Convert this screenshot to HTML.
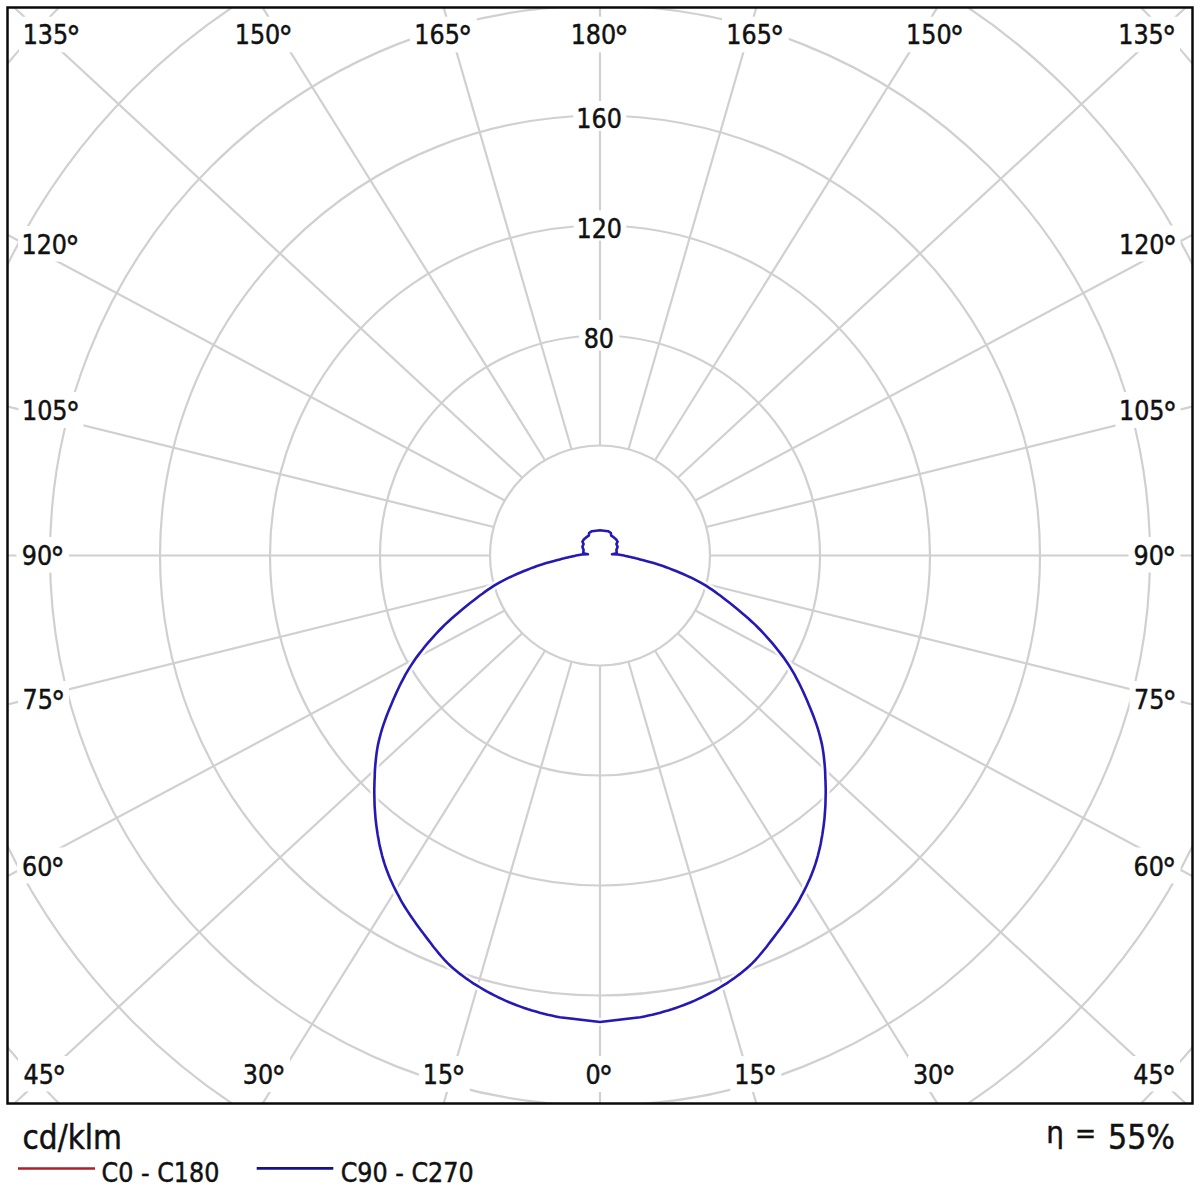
<!DOCTYPE html>
<html><head><meta charset="utf-8"><title>Polar diagram</title>
<style>html,body{margin:0;padding:0;background:#fff;width:1200px;height:1200px;overflow:hidden}</style>
</head><body>
<svg width="1200" height="1200" viewBox="0 0 1200 1200" style="position:absolute;left:0;top:0"><defs><clipPath id="fr"><rect x="7.5" y="7.5" width="1185.0" height="1096.0"/></clipPath></defs><rect width="1200" height="1200" fill="#fff"/><g clip-path="url(#fr)" fill="none" stroke="#d0d0d0" stroke-width="2.2"><circle cx="600" cy="555.5" r="110"/><circle cx="600" cy="555.5" r="220"/><circle cx="600" cy="555.5" r="330"/><circle cx="600" cy="555.5" r="440"/><circle cx="600" cy="555.5" r="550"/><circle cx="600" cy="555.5" r="660"/><circle cx="600" cy="555.5" r="770"/><line x1="600.00" y1="665.50" x2="600.00" y2="1665.50"/><line x1="628.47" y1="661.75" x2="906.52" y2="1622.32"/><line x1="655.00" y1="650.76" x2="1184.21" y2="1499.25"/><line x1="677.78" y1="633.28" x2="1411.63" y2="1312.59"/><line x1="695.26" y1="610.50" x2="1577.21" y2="1081.85"/><line x1="706.25" y1="583.97" x2="1676.84" y2="824.71"/><line x1="710.00" y1="555.50" x2="1710.00" y2="555.50"/><line x1="706.25" y1="527.03" x2="1676.84" y2="286.29"/><line x1="695.26" y1="500.50" x2="1577.21" y2="29.15"/><line x1="677.78" y1="477.72" x2="1411.63" y2="-201.59"/><line x1="655.00" y1="460.24" x2="1184.21" y2="-388.25"/><line x1="628.47" y1="449.25" x2="906.52" y2="-511.32"/><line x1="600.00" y1="445.50" x2="600.00" y2="-554.50"/><line x1="571.53" y1="449.25" x2="293.48" y2="-511.32"/><line x1="545.00" y1="460.24" x2="15.79" y2="-388.25"/><line x1="522.22" y1="477.72" x2="-211.63" y2="-201.59"/><line x1="504.74" y1="500.50" x2="-377.21" y2="29.15"/><line x1="493.75" y1="527.03" x2="-476.84" y2="286.29"/><line x1="490.00" y1="555.50" x2="-510.00" y2="555.50"/><line x1="493.75" y1="583.97" x2="-476.84" y2="824.71"/><line x1="504.74" y1="610.50" x2="-377.21" y2="1081.85"/><line x1="522.22" y1="633.28" x2="-211.63" y2="1312.59"/><line x1="545.00" y1="650.76" x2="15.79" y2="1499.25"/><line x1="571.53" y1="661.75" x2="293.48" y2="1622.32"/></g><g fill="#fff"><rect x="19.0" y="16.7" width="65.3" height="35.6"/><rect x="230.8" y="16.7" width="65.9" height="35.6"/><rect x="410.0" y="16.7" width="66.7" height="35.6"/><rect x="567.0" y="16.7" width="65.3" height="35.6"/><rect x="722.0" y="16.7" width="66.7" height="35.6"/><rect x="901.5" y="16.7" width="67.2" height="35.6"/><rect x="1114.5" y="16.7" width="65.5" height="35.6"/><rect x="18.0" y="226.0" width="65.0" height="35.6"/><rect x="18.5" y="392.0" width="65.0" height="36.0"/><rect x="16.5" y="537.0" width="52.5" height="35.6"/><rect x="18.0" y="681.0" width="51.0" height="35.5"/><rect x="17.0" y="847.5" width="52.0" height="36.0"/><rect x="18.0" y="1056.0" width="52.0" height="35.5"/><rect x="1115.5" y="225.5" width="65.0" height="36.0"/><rect x="1115.5" y="392.0" width="65.0" height="36.0"/><rect x="1128.5" y="537.0" width="52.0" height="35.5"/><rect x="1129.5" y="681.0" width="51.0" height="35.5"/><rect x="1128.5" y="847.5" width="52.0" height="36.0"/><rect x="1127.5" y="1056.0" width="52.5" height="35.5"/><rect x="237.8" y="1056.0" width="52.1" height="36.0"/><rect x="418.8" y="1056.0" width="51.0" height="36.0"/><rect x="580.3" y="1056.0" width="37.4" height="36.0"/><rect x="730.3" y="1056.0" width="51.0" height="36.0"/><rect x="907.9" y="1056.0" width="52.1" height="36.0"/><rect x="573.3" y="101.0" width="53.0" height="29.8"/><rect x="573.7" y="210.3" width="52.6" height="30.2"/><rect x="579.0" y="320.0" width="40.3" height="30.5"/></g><g font-family="'DejaVu Sans Condensed','DejaVu Sans','Liberation Sans',sans-serif" font-size="26.5" fill="#111" stroke="#111" stroke-width="0.45"><text x="22.65" y="44.30">135<tspan font-size="32" dx="-1.8" dy="5">°</tspan></text><text x="234.75" y="44.30">150<tspan font-size="32" dx="-1.8" dy="5">°</tspan></text><text x="414.35" y="44.30">165<tspan font-size="32" dx="-1.8" dy="5">°</tspan></text><text x="570.65" y="44.30">180<tspan font-size="32" dx="-1.8" dy="5">°</tspan></text><text x="726.35" y="44.30">165<tspan font-size="32" dx="-1.8" dy="5">°</tspan></text><text x="906.10" y="44.30">150<tspan font-size="32" dx="-1.8" dy="5">°</tspan></text><text x="1118.25" y="44.30">135<tspan font-size="32" dx="-1.8" dy="5">°</tspan></text><text x="21.50" y="253.60">120<tspan font-size="32" dx="-1.8" dy="5">°</tspan></text><text x="22.00" y="420.00">105<tspan font-size="32" dx="-1.8" dy="5">°</tspan></text><text x="21.75" y="564.60">90<tspan font-size="32" dx="-1.8" dy="5">°</tspan></text><text x="22.50" y="708.50">75<tspan font-size="32" dx="-1.8" dy="5">°</tspan></text><text x="22.00" y="875.50">60<tspan font-size="32" dx="-1.8" dy="5">°</tspan></text><text x="23.50" y="1083.50">45<tspan font-size="32" dx="-1.8" dy="5">°</tspan></text><text x="1119.00" y="253.50">120<tspan font-size="32" dx="-1.8" dy="5">°</tspan></text><text x="1119.00" y="420.00">105<tspan font-size="32" dx="-1.8" dy="5">°</tspan></text><text x="1133.50" y="564.50">90<tspan font-size="32" dx="-1.8" dy="5">°</tspan></text><text x="1134.00" y="708.50">75<tspan font-size="32" dx="-1.8" dy="5">°</tspan></text><text x="1133.50" y="875.50">60<tspan font-size="32" dx="-1.8" dy="5">°</tspan></text><text x="1133.25" y="1083.50">45<tspan font-size="32" dx="-1.8" dy="5">°</tspan></text><text x="242.85" y="1084.00">30<tspan font-size="32" dx="-1.8" dy="5">°</tspan></text><text x="422.80" y="1084.00">15<tspan font-size="32" dx="-1.8" dy="5">°</tspan></text><text x="585.50" y="1084.00">0<tspan font-size="32" dx="-1.8" dy="5">°</tspan></text><text x="734.30" y="1084.00">15<tspan font-size="32" dx="-1.8" dy="5">°</tspan></text><text x="912.95" y="1084.00">30<tspan font-size="32" dx="-1.8" dy="5">°</tspan></text><text x="576.30" y="128.30">160</text><text x="576.50" y="238.00">120</text><text x="583.65" y="348.00">80</text></g><path d="M576.0,555.6 L582.0,554.4 L588.0,554.2 L583.2,553.2 L583.6,550.0 L582.4,546.8 L583.6,544.0 L582.4,541.6 L584.0,539.2 L586.4,537.2 L588.8,535.6 L589.2,532.8 L592.0,531.2 L600.0,530.2 L608.0,531.2 L610.8,532.8 L611.2,535.6 L613.6,537.2 L616.0,539.2 L617.6,541.6 L616.4,544.0 L617.6,546.8 L616.4,550.0 L616.8,553.2 L612.0,554.2 L618.0,554.4 L624.0,555.6 L624.8,555.8 L625.7,556.0 L626.7,556.2 L627.9,556.4 L629.2,556.7 L630.6,557.0 L632.2,557.4 L633.9,557.8 L635.8,558.3 L637.9,558.8 L640.1,559.4 L642.5,560.0 L645.1,560.7 L647.8,561.4 L650.7,562.2 L653.7,563.1 L656.7,564.0 L659.8,565.0 L663.0,566.0 L666.1,567.2 L669.3,568.4 L672.6,569.7 L676.0,571.0 L679.5,572.5 L683.1,574.0 L686.6,575.6 L690.1,577.2 L693.6,578.9 L696.9,580.6 L700.2,582.3 L703.3,584.1 L706.3,585.9 L709.2,587.8 L712.0,589.7 L714.8,591.6 L717.6,593.7 L720.5,595.7 L723.3,597.9 L726.2,600.2 L729.2,602.5 L732.3,605.0 L735.4,607.5 L738.7,610.2 L741.9,612.9 L745.2,615.7 L748.4,618.5 L751.6,621.5 L754.8,624.4 L757.9,627.5 L760.9,630.5 L763.8,633.6 L766.7,636.8 L769.6,640.1 L772.5,643.4 L775.3,646.8 L778.0,650.2 L780.7,653.6 L783.3,657.1 L785.7,660.6 L788.1,664.1 L790.4,667.6 L792.5,671.1 L794.6,674.7 L796.5,678.3 L798.4,681.9 L800.2,685.5 L802.0,689.2 L803.7,692.9 L805.4,696.7 L807.1,700.5 L808.7,704.4 L810.4,708.4 L812.0,712.4 L813.6,716.5 L815.1,720.6 L816.5,724.7 L817.9,728.9 L819.1,733.0 L820.2,737.1 L821.2,741.1 L822.1,745.1 L822.8,749.1 L823.4,753.1 L823.9,757.1 L824.3,761.0 L824.7,765.0 L825.0,768.9 L825.2,772.9 L825.3,776.9 L825.5,781.0 L825.6,785.1 L825.7,789.2 L825.7,793.3 L825.6,797.5 L825.5,801.7 L825.4,805.8 L825.1,810.0 L824.8,814.2 L824.5,818.3 L824.0,822.5 L823.5,826.6 L822.9,830.8 L822.3,834.9 L821.5,839.1 L820.8,843.2 L819.9,847.4 L818.9,851.5 L817.9,855.5 L816.8,859.5 L815.6,863.4 L814.3,867.3 L812.9,871.1 L811.4,874.9 L809.9,878.6 L808.2,882.3 L806.5,886.0 L804.7,889.6 L802.9,893.2 L801.0,896.7 L799.1,900.3 L797.1,903.8 L795.0,907.2 L792.8,910.6 L790.6,914.0 L788.4,917.3 L786.1,920.6 L783.7,923.9 L781.3,927.2 L778.9,930.5 L776.4,933.8 L773.9,937.1 L771.4,940.4 L768.8,943.8 L766.2,947.2 L763.5,950.5 L760.8,953.8 L758.1,957.0 L755.3,960.1 L752.4,963.1 L749.4,966.0 L746.3,968.7 L743.2,971.3 L740.0,973.9 L736.8,976.3 L733.5,978.7 L730.1,981.0 L726.7,983.3 L723.3,985.4 L719.8,987.5 L716.3,989.6 L712.8,991.6 L709.2,993.5 L705.6,995.4 L702.0,997.2 L698.3,998.9 L694.6,1000.6 L690.9,1002.2 L687.1,1003.7 L683.3,1005.2 L679.5,1006.6 L675.7,1008.0 L671.9,1009.3 L668.0,1010.5 L664.1,1011.6 L660.2,1012.7 L656.3,1013.7 L652.3,1014.7 L648.3,1015.6 L644.4,1016.4 L640.4,1017.2 L600.0,1022.0 L559.6,1017.2 L555.6,1016.4 L551.7,1015.6 L547.7,1014.7 L543.7,1013.7 L539.8,1012.7 L535.9,1011.6 L532.0,1010.5 L528.1,1009.3 L524.3,1008.0 L520.5,1006.6 L516.7,1005.2 L512.9,1003.7 L509.1,1002.2 L505.4,1000.6 L501.7,998.9 L498.0,997.2 L494.4,995.4 L490.8,993.5 L487.2,991.6 L483.7,989.6 L480.2,987.5 L476.7,985.4 L473.3,983.3 L469.9,981.0 L466.5,978.7 L463.2,976.3 L460.0,973.9 L456.8,971.3 L453.7,968.7 L450.6,966.0 L447.6,963.1 L444.7,960.1 L441.9,957.0 L439.2,953.8 L436.5,950.5 L433.8,947.2 L431.2,943.8 L428.6,940.4 L426.1,937.1 L423.6,933.8 L421.1,930.5 L418.7,927.2 L416.3,923.9 L413.9,920.6 L411.6,917.3 L409.4,914.0 L407.2,910.6 L405.0,907.2 L402.9,903.8 L400.9,900.3 L399.0,896.7 L397.1,893.2 L395.3,889.6 L393.5,886.0 L391.8,882.3 L390.1,878.6 L388.6,874.9 L387.1,871.1 L385.7,867.3 L384.4,863.4 L383.2,859.5 L382.1,855.5 L381.1,851.5 L380.1,847.4 L379.2,843.2 L378.5,839.1 L377.7,834.9 L377.1,830.8 L376.5,826.6 L376.0,822.5 L375.5,818.3 L375.2,814.2 L374.9,810.0 L374.6,805.8 L374.5,801.7 L374.4,797.5 L374.3,793.3 L374.3,789.2 L374.4,785.1 L374.5,781.0 L374.7,776.9 L374.8,772.9 L375.0,768.9 L375.3,765.0 L375.7,761.0 L376.1,757.1 L376.6,753.1 L377.2,749.1 L377.9,745.1 L378.8,741.1 L379.8,737.1 L380.9,733.0 L382.1,728.9 L383.5,724.7 L384.9,720.6 L386.4,716.5 L388.0,712.4 L389.6,708.4 L391.3,704.4 L392.9,700.5 L394.6,696.7 L396.3,692.9 L398.0,689.2 L399.8,685.5 L401.6,681.9 L403.5,678.3 L405.4,674.7 L407.5,671.1 L409.6,667.6 L411.9,664.1 L414.3,660.6 L416.7,657.1 L419.3,653.6 L422.0,650.2 L424.7,646.8 L427.5,643.4 L430.4,640.1 L433.3,636.8 L436.2,633.6 L439.1,630.5 L442.1,627.5 L445.2,624.4 L448.4,621.5 L451.6,618.5 L454.8,615.7 L458.1,612.9 L461.3,610.2 L464.6,607.5 L467.7,605.0 L470.8,602.5 L473.8,600.2 L476.7,597.9 L479.5,595.7 L482.4,593.7 L485.2,591.6 L488.0,589.7 L490.8,587.8 L493.7,585.9 L496.7,584.1 L499.8,582.3 L503.1,580.6 L506.4,578.9 L509.9,577.2 L513.4,575.6 L516.9,574.0 L520.5,572.5 L524.0,571.0 L527.4,569.7 L530.7,568.4 L533.9,567.2 L537.0,566.0 L540.2,565.0 L543.3,564.0 L546.3,563.1 L549.3,562.2 L552.2,561.4 L554.9,560.7 L557.5,560.0 L559.9,559.4 L562.1,558.8 L564.2,558.3 L566.1,557.8 L567.8,557.4 L569.4,557.0 L570.8,556.7 L572.1,556.4 L573.3,556.2 L574.3,556.0 L575.2,555.8 Z" fill="none" stroke="#fff" stroke-width="8" stroke-linejoin="round" clip-path="url(#fr)" opacity="0.85"/><path d="M576.0,555.6 L582.0,554.4 L588.0,554.2 L583.2,553.2 L583.6,550.0 L582.4,546.8 L583.6,544.0 L582.4,541.6 L584.0,539.2 L586.4,537.2 L588.8,535.6 L589.2,532.8 L592.0,531.2 L600.0,530.2 L608.0,531.2 L610.8,532.8 L611.2,535.6 L613.6,537.2 L616.0,539.2 L617.6,541.6 L616.4,544.0 L617.6,546.8 L616.4,550.0 L616.8,553.2 L612.0,554.2 L618.0,554.4 L624.0,555.6 L624.8,555.8 L625.7,556.0 L626.7,556.2 L627.9,556.4 L629.2,556.7 L630.6,557.0 L632.2,557.4 L633.9,557.8 L635.8,558.3 L637.9,558.8 L640.1,559.4 L642.5,560.0 L645.1,560.7 L647.8,561.4 L650.7,562.2 L653.7,563.1 L656.7,564.0 L659.8,565.0 L663.0,566.0 L666.1,567.2 L669.3,568.4 L672.6,569.7 L676.0,571.0 L679.5,572.5 L683.1,574.0 L686.6,575.6 L690.1,577.2 L693.6,578.9 L696.9,580.6 L700.2,582.3 L703.3,584.1 L706.3,585.9 L709.2,587.8 L712.0,589.7 L714.8,591.6 L717.6,593.7 L720.5,595.7 L723.3,597.9 L726.2,600.2 L729.2,602.5 L732.3,605.0 L735.4,607.5 L738.7,610.2 L741.9,612.9 L745.2,615.7 L748.4,618.5 L751.6,621.5 L754.8,624.4 L757.9,627.5 L760.9,630.5 L763.8,633.6 L766.7,636.8 L769.6,640.1 L772.5,643.4 L775.3,646.8 L778.0,650.2 L780.7,653.6 L783.3,657.1 L785.7,660.6 L788.1,664.1 L790.4,667.6 L792.5,671.1 L794.6,674.7 L796.5,678.3 L798.4,681.9 L800.2,685.5 L802.0,689.2 L803.7,692.9 L805.4,696.7 L807.1,700.5 L808.7,704.4 L810.4,708.4 L812.0,712.4 L813.6,716.5 L815.1,720.6 L816.5,724.7 L817.9,728.9 L819.1,733.0 L820.2,737.1 L821.2,741.1 L822.1,745.1 L822.8,749.1 L823.4,753.1 L823.9,757.1 L824.3,761.0 L824.7,765.0 L825.0,768.9 L825.2,772.9 L825.3,776.9 L825.5,781.0 L825.6,785.1 L825.7,789.2 L825.7,793.3 L825.6,797.5 L825.5,801.7 L825.4,805.8 L825.1,810.0 L824.8,814.2 L824.5,818.3 L824.0,822.5 L823.5,826.6 L822.9,830.8 L822.3,834.9 L821.5,839.1 L820.8,843.2 L819.9,847.4 L818.9,851.5 L817.9,855.5 L816.8,859.5 L815.6,863.4 L814.3,867.3 L812.9,871.1 L811.4,874.9 L809.9,878.6 L808.2,882.3 L806.5,886.0 L804.7,889.6 L802.9,893.2 L801.0,896.7 L799.1,900.3 L797.1,903.8 L795.0,907.2 L792.8,910.6 L790.6,914.0 L788.4,917.3 L786.1,920.6 L783.7,923.9 L781.3,927.2 L778.9,930.5 L776.4,933.8 L773.9,937.1 L771.4,940.4 L768.8,943.8 L766.2,947.2 L763.5,950.5 L760.8,953.8 L758.1,957.0 L755.3,960.1 L752.4,963.1 L749.4,966.0 L746.3,968.7 L743.2,971.3 L740.0,973.9 L736.8,976.3 L733.5,978.7 L730.1,981.0 L726.7,983.3 L723.3,985.4 L719.8,987.5 L716.3,989.6 L712.8,991.6 L709.2,993.5 L705.6,995.4 L702.0,997.2 L698.3,998.9 L694.6,1000.6 L690.9,1002.2 L687.1,1003.7 L683.3,1005.2 L679.5,1006.6 L675.7,1008.0 L671.9,1009.3 L668.0,1010.5 L664.1,1011.6 L660.2,1012.7 L656.3,1013.7 L652.3,1014.7 L648.3,1015.6 L644.4,1016.4 L640.4,1017.2 L600.0,1022.0 L559.6,1017.2 L555.6,1016.4 L551.7,1015.6 L547.7,1014.7 L543.7,1013.7 L539.8,1012.7 L535.9,1011.6 L532.0,1010.5 L528.1,1009.3 L524.3,1008.0 L520.5,1006.6 L516.7,1005.2 L512.9,1003.7 L509.1,1002.2 L505.4,1000.6 L501.7,998.9 L498.0,997.2 L494.4,995.4 L490.8,993.5 L487.2,991.6 L483.7,989.6 L480.2,987.5 L476.7,985.4 L473.3,983.3 L469.9,981.0 L466.5,978.7 L463.2,976.3 L460.0,973.9 L456.8,971.3 L453.7,968.7 L450.6,966.0 L447.6,963.1 L444.7,960.1 L441.9,957.0 L439.2,953.8 L436.5,950.5 L433.8,947.2 L431.2,943.8 L428.6,940.4 L426.1,937.1 L423.6,933.8 L421.1,930.5 L418.7,927.2 L416.3,923.9 L413.9,920.6 L411.6,917.3 L409.4,914.0 L407.2,910.6 L405.0,907.2 L402.9,903.8 L400.9,900.3 L399.0,896.7 L397.1,893.2 L395.3,889.6 L393.5,886.0 L391.8,882.3 L390.1,878.6 L388.6,874.9 L387.1,871.1 L385.7,867.3 L384.4,863.4 L383.2,859.5 L382.1,855.5 L381.1,851.5 L380.1,847.4 L379.2,843.2 L378.5,839.1 L377.7,834.9 L377.1,830.8 L376.5,826.6 L376.0,822.5 L375.5,818.3 L375.2,814.2 L374.9,810.0 L374.6,805.8 L374.5,801.7 L374.4,797.5 L374.3,793.3 L374.3,789.2 L374.4,785.1 L374.5,781.0 L374.7,776.9 L374.8,772.9 L375.0,768.9 L375.3,765.0 L375.7,761.0 L376.1,757.1 L376.6,753.1 L377.2,749.1 L377.9,745.1 L378.8,741.1 L379.8,737.1 L380.9,733.0 L382.1,728.9 L383.5,724.7 L384.9,720.6 L386.4,716.5 L388.0,712.4 L389.6,708.4 L391.3,704.4 L392.9,700.5 L394.6,696.7 L396.3,692.9 L398.0,689.2 L399.8,685.5 L401.6,681.9 L403.5,678.3 L405.4,674.7 L407.5,671.1 L409.6,667.6 L411.9,664.1 L414.3,660.6 L416.7,657.1 L419.3,653.6 L422.0,650.2 L424.7,646.8 L427.5,643.4 L430.4,640.1 L433.3,636.8 L436.2,633.6 L439.1,630.5 L442.1,627.5 L445.2,624.4 L448.4,621.5 L451.6,618.5 L454.8,615.7 L458.1,612.9 L461.3,610.2 L464.6,607.5 L467.7,605.0 L470.8,602.5 L473.8,600.2 L476.7,597.9 L479.5,595.7 L482.4,593.7 L485.2,591.6 L488.0,589.7 L490.8,587.8 L493.7,585.9 L496.7,584.1 L499.8,582.3 L503.1,580.6 L506.4,578.9 L509.9,577.2 L513.4,575.6 L516.9,574.0 L520.5,572.5 L524.0,571.0 L527.4,569.7 L530.7,568.4 L533.9,567.2 L537.0,566.0 L540.2,565.0 L543.3,564.0 L546.3,563.1 L549.3,562.2 L552.2,561.4 L554.9,560.7 L557.5,560.0 L559.9,559.4 L562.1,558.8 L564.2,558.3 L566.1,557.8 L567.8,557.4 L569.4,557.0 L570.8,556.7 L572.1,556.4 L573.3,556.2 L574.3,556.0 L575.2,555.8 Z" fill="none" stroke="#2519b4" stroke-width="2.6" stroke-linejoin="round"/><rect x="7.5" y="7.5" width="1185.0" height="1096.0" fill="none" stroke="#0a0a0a" stroke-width="2.5"/><g font-family="'DejaVu Sans Condensed','DejaVu Sans','Liberation Sans',sans-serif" fill="#111" stroke="#111" stroke-width="0.45"><text x="22.50" y="1149.00" font-size="33">cd/klm</text><text x="1046.30" y="1143.00" font-size="31">η</text><text x="1074.90" y="1142.60" font-size="28">=</text><text x="1108.00" y="1149.40" font-size="33.5">55%</text><text x="101.60" y="1181.70" font-size="26.5">C0 - C180</text><text x="340.70" y="1181.70" font-size="26.5">C90 - C270</text></g><line x1="18" y1="1168.5" x2="95" y2="1168.5" stroke="#b01e28" stroke-width="2.6"/><line x1="256.7" y1="1168.4" x2="333.3" y2="1168.4" stroke="#14108e" stroke-width="2.6"/></svg>
</body></html>
